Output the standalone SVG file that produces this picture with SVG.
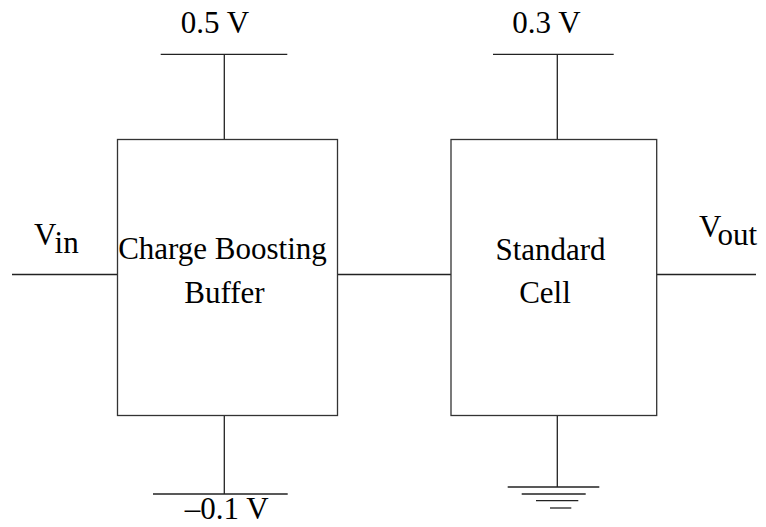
<svg xmlns="http://www.w3.org/2000/svg" width="766" height="527" viewBox="0 0 766 527">
<style>
.w{stroke:#222;stroke-width:1.3;fill:none}
.b{stroke:#333;stroke-width:1.3;fill:#fff}
text{font-family:"Liberation Serif","Times New Roman",serif;font-size:31px;fill:#000}
</style>
<rect width="766" height="527" fill="#fff"/>
<g id="connectors">
<line class="w" x1="12" y1="274.5" x2="117.5" y2="274.5"/>
<line class="w" x1="337.5" y1="274.5" x2="451" y2="274.5"/>
<line class="w" x1="656.7" y1="274.5" x2="756" y2="274.5"/>
<line class="w" x1="224.3" y1="54.3" x2="224.3" y2="139.5"/>
<line class="w" x1="224.3" y1="415.5" x2="224.3" y2="494"/>
<line class="w" x1="557.3" y1="54.3" x2="557.3" y2="139.5"/>
<line class="w" x1="557.3" y1="415.5" x2="557.3" y2="487"/>
</g>
<g id="vdd1">
<line class="w" x1="160.7" y1="54.3" x2="287.3" y2="54.3"/>
<text x="215" y="33" text-anchor="middle">0.5 V</text>
</g>
<g id="vdd2">
<line class="w" x1="493" y1="54.3" x2="613.7" y2="54.3"/>
<text x="546.5" y="33" text-anchor="middle">0.3 V</text>
</g>
<g id="vss1">
<line class="w" x1="153" y1="494" x2="287.7" y2="494"/>
<text x="226.7" y="519" text-anchor="middle">–0.1 V</text>
</g>
<g id="ground">
<line class="w" x1="507.7" y1="487" x2="599.3" y2="487"/>
<line class="w" x1="521.7" y1="494" x2="585.7" y2="494"/>
<line class="w" x1="536" y1="500.7" x2="578.3" y2="500.7"/>
<line class="w" x1="550" y1="508" x2="571.3" y2="508"/>
</g>
<g id="buffer">
<rect class="b" x="117.5" y="139.5" width="220" height="276"/>
<text x="222.5" y="259" text-anchor="middle">Charge Boosting</text>
<text x="224.5" y="303" text-anchor="middle">Buffer</text>
</g>
<g id="cell">
<rect class="b" x="451" y="139.5" width="205.7" height="276"/>
<text x="550.5" y="260" text-anchor="middle">Standard</text>
<text x="545" y="302.7" text-anchor="middle">Cell</text>
</g>
<g id="vin">
<text x="34" y="245">V<tspan dy="8">in</tspan></text>
</g>
<g id="vout">
<text x="699" y="237">V<tspan dy="8">out</tspan></text>
</g>
</svg>
